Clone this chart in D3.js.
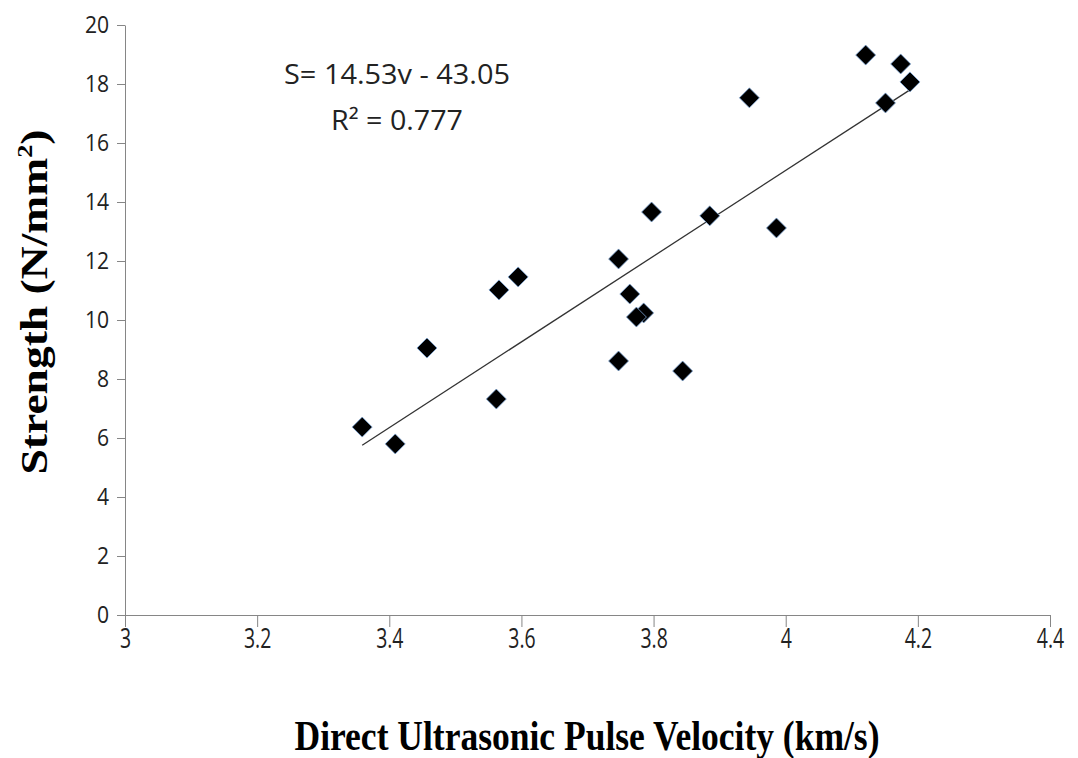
<!DOCTYPE html>
<html><head><meta charset="utf-8">
<script src="https://cdn.jsdelivr.net/npm/d3@7"></script>
<style>body{margin:0;background:#fff}svg{display:block}</style>
</head><body>
<svg id="c" width="1078" height="758"></svg>
<script>
const velocity = [3.359,3.409,3.457,3.562,3.566,3.595,3.747,3.747,3.764,3.785,3.774,3.797,3.844,3.885,3.945,3.986,4.121,4.151,4.174,4.188];
const strength = [6.37,5.80,9.05,7.32,11.02,11.46,12.07,8.61,10.88,10.24,10.10,13.66,8.27,13.53,17.53,13.12,18.98,17.36,18.68,18.07];
const xTicks = [3,3.2,3.4,3.6,3.8,4,4.2,4.4];
const yTicks = [0,2,4,6,8,10,12,14,16,18,20];
const slope = 14.53, intercept = -43.05;
const eqLines = ["S= 14.53v - 43.05", "R² = 0.777"];

const svg = d3.select("#c");
const x = d3.scaleLinear().domain([3,4.4]).range([125,1050]);
const y = d3.scaleLinear().domain([0,20]).range([615,25]);
const axisColor = "#868686";
const tickFont = "'Open Sans', sans-serif";

const xa = svg.append("g").attr("transform","translate(0,615)")
  .call(d3.axisBottom(x).tickValues(xTicks).tickFormat(d3.format("")).tickSize(12).tickSizeOuter(0));
xa.selectAll("line").attr("stroke",axisColor);
xa.select(".domain").attr("stroke",axisColor);
xa.selectAll("text").attr("font-family",tickFont).attr("font-size",27).attr("fill","#222")
  .attr("y",14).attr("dy","0.71em").attr("transform","scale(0.72,1)");

const ya = svg.append("g").attr("transform","translate(125,0)")
  .call(d3.axisLeft(y).tickValues(yTicks).tickSize(8).tickSizeOuter(0));
ya.selectAll("line").attr("stroke",axisColor);
ya.select(".domain").attr("stroke",axisColor);
ya.selectAll("text").attr("font-family",tickFont).attr("font-size",24).attr("fill","#222").attr("x",-18)
  .attr("transform","scale(0.88,1)");

// trendline
const vx = d3.extent(velocity);
svg.append("line")
  .attr("x1",x(vx[0])).attr("y1",y(slope*vx[0]+intercept))
  .attr("x2",x(vx[1])).attr("y2",y(slope*vx[1]+intercept))
  .attr("stroke","#333").attr("stroke-width",1.3);

// points
const pts = velocity.map((v,i)=>({v,s:strength[i]}));
svg.append("g").selectAll("path").data(pts).join("path")
  .attr("transform",d=>`translate(${x(d.v)},${y(d.s)})`)
  .attr("d","M0,-10L10,0L0,10L-10,0Z")
  .attr("fill","#000").attr("stroke","#7ea6d6").attr("stroke-width",0.8);

// equation
svg.append("text").attr("x",397).attr("y",84).attr("text-anchor","middle")
  .attr("font-family",tickFont).attr("font-size",27).attr("fill","#222")
  .attr("textLength",226).attr("lengthAdjust","spacingAndGlyphs").text(eqLines[0]);
svg.append("text").attr("x",397).attr("y",130).attr("text-anchor","middle")
  .attr("font-family",tickFont).attr("font-size",27).attr("fill","#222")
  .attr("textLength",132).attr("lengthAdjust","spacingAndGlyphs").text(eqLines[1]);

// axis titles
svg.append("text").attr("x",587).attr("y",750).attr("text-anchor","middle")
  .attr("font-family","'Liberation Serif', serif").attr("font-weight","bold").attr("font-size",42).attr("fill","#000")
  .attr("textLength",585).attr("lengthAdjust","spacingAndGlyphs")
  .text("Direct Ultrasonic Pulse Velocity (km/s)");

const yt = svg.append("text").attr("transform","translate(47,302) rotate(-90)").attr("text-anchor","middle")
  .attr("font-family","'Liberation Serif', serif").attr("font-weight","bold").attr("font-size",38).attr("fill","#000")
  .attr("textLength",345).attr("lengthAdjust","spacingAndGlyphs");
yt.append("tspan").text("Strength (N/mm");
yt.append("tspan").attr("font-size",22).attr("dy",-15).text("2");
yt.append("tspan").attr("dy",15).text(")");
</script>
</body></html>
